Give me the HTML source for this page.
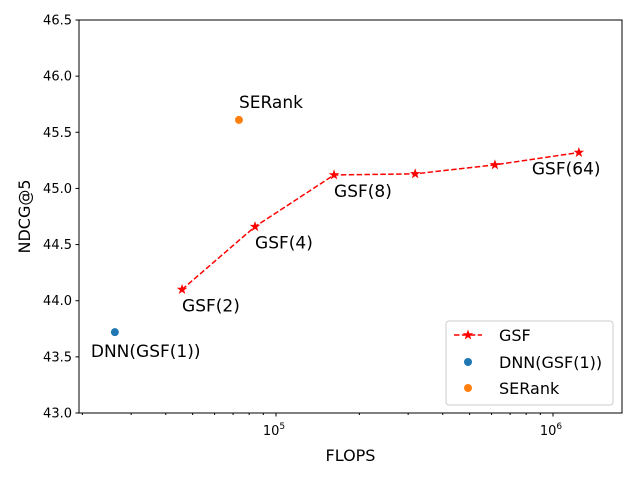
<!DOCTYPE html>
<html><head><meta charset="utf-8"><style>
body{margin:0;background:#fff}
svg{font-family:"DejaVu Sans","Liberation Sans",sans-serif}
</style></head><body>
<svg id="c" width="640" height="480" xmlns="http://www.w3.org/2000/svg"></svg>
<script>
const gsfFlops=[45800,84000,162000,318000,617000,1240000];
const gsfNdcg=[44.10,44.66,45.12,45.13,45.21,45.32];
const gsfLabels=["GSF(2)","GSF(4)","GSF(8)","","","GSF(64)"];
const dnnFlops=[26200];const dnnNdcg=[43.72];
const serFlops=[73500];const serNdcg=[45.61];
const yTicks=[43.0,43.5,44.0,44.5,45.0,45.5,46.0,46.5];
const X0=79,X1=622,Y0=20,Y1=413;
const LMIN=5-(276-79)/277, LMAX=6+(622-553)/277;
function xs(v){return X0+(Math.log10(v)-LMIN)/(LMAX-LMIN)*(X1-X0);}
function ys(v){return Y1-(v-43)/3.5*(Y1-Y0);}
const svg=document.getElementById('c');const NS='http://www.w3.org/2000/svg';
function el(t,a,p){const e=document.createElementNS(NS,t);for(const k in a)e.setAttribute(k,a[k]);(p||svg).appendChild(e);return e;}
const box=el('rect',{x:X0,y:Y0,width:X1-X0,height:Y1-Y0,fill:'none',stroke:'#000','stroke-width':1});

yTicks.forEach(t=>{const y=ys(t);
 el('line',{x1:X0-3.5,x2:X0,y1:y,y2:y,stroke:'#000'});
 const tx=el('text',{x:X0-7,y:y+4.5,'font-size':13,'text-anchor':'end'});tx.textContent=t.toFixed(1);
 });
for(let d=4;d<=6;d++){for(let m=1;m<10;m++){const v=m*Math.pow(10,d);const x=xs(v);if(x<X0||x>X1)continue;
 el('line',{x1:x,x2:x,y1:Y1,y2:Y1+(m==1?3.5:2),stroke:'#000'});
 if(m==1){const tx=el('text',{x:x-2,y:Y1+22,'font-size':13,'text-anchor':'middle'});
  tx.innerHTML='10<tspan dy="-6" font-size="9">'+d+'</tspan>';
  }}}
const xl=el('text',{x:(X0+X1)/2,y:461,'font-size':16,'text-anchor':'middle'});xl.textContent='FLOPS';

const yl=el('text',{x:0,y:0,'font-size':16,'text-anchor':'middle',transform:'translate(30,'+((Y0+Y1)/2)+') rotate(-90)'});yl.textContent='NDCG@5';

const pts=gsfFlops.map((f,i)=>xs(f)+','+ys(gsfNdcg[i])).join(' ');
const pl=el('polyline',{points:pts,fill:'none',stroke:'red','stroke-width':1.5,'stroke-dasharray':'5.5,2.4'});

function star(cx,cy,r,fill){let p=[];for(let i=0;i<10;i++){const a=-Math.PI/2+i*Math.PI/5;const rr=i%2?r*0.4:r;p.push((cx+rr*Math.cos(a))+','+(cy+rr*Math.sin(a)));}
 return el('polygon',{points:p.join(' '),fill:fill,stroke:fill});}
gsfFlops.forEach((f,i)=>{const s=star(xs(f),ys(gsfNdcg[i]),4,'red');
 
 if(gsfLabels[i]){const dx=(i==gsfFlops.length-1)?-47:0;
  const t=el('text',{x:xs(f)+dx,y:ys(gsfNdcg[i])+22,'font-size':17});t.textContent=gsfLabels[i];
  }});
const c1=el('circle',{cx:xs(dnnFlops[0]),cy:ys(dnnNdcg[0]),r:4,fill:'#1f77b4'});

const t1=el('text',{x:xs(dnnFlops[0])-24,y:ys(dnnNdcg[0])+25,'font-size':17});t1.textContent='DNN(GSF(1))';

const c2=el('circle',{cx:xs(serFlops[0]),cy:ys(serNdcg[0]),r:4,fill:'#ff7f0e'});

const t2=el('text',{x:xs(serFlops[0]),y:ys(serNdcg[0])-12,'font-size':17});t2.textContent='SERank';

const lg=el('g',{});
el('rect',{x:446,y:321,width:167,height:84,rx:3,fill:'#fff',stroke:'#ccc'},lg);
el('line',{x1:454,x2:482,y1:335,y2:335,stroke:'red','stroke-width':1.5,'stroke-dasharray':'5.5,2.4'},lg);
lg.appendChild(star(468,335,4,'red'));
el('circle',{cx:468,cy:362,r:4,fill:'#1f77b4'},lg);
el('circle',{cx:468,cy:388,r:4,fill:'#ff7f0e'},lg);
[['GSF',341],['DNN(GSF(1))',368],['SERank',394]].forEach(([s,y])=>{const t=el('text',{x:499,y:y,'font-size':16},lg);t.textContent=s;
 });
</script>
</body></html>
